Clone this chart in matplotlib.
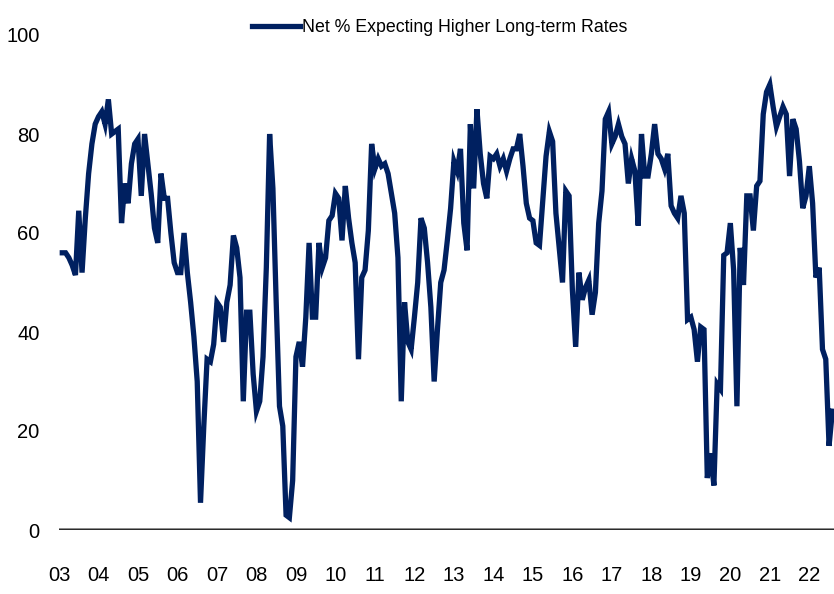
import numpy as np
import matplotlib
matplotlib.use('Agg')
import matplotlib.pyplot as plt

# monthly survey readings, Feb 2003 onwards (one row per calendar year)
START_YEAR = 2003
START_MONTH = 2
NET_HIGHER_RATES = [
    56, 56, 55, 53.5, 51.5, 64.5, 52, 63, 72, 78, 82,                     # 2003
    83.5, 84.5, 82, 87, 80, 80.5, 81, 62, 70, 66, 74, 78,                 # 2004
    79, 67.5, 80, 74, 68, 61, 58, 72, 67, 67, 60, 54,                     # 2005
    52, 52, 60, 52, 46, 39, 30, 5.5, 21, 34.5, 34, 37.5,                  # 2006
    46, 45, 38, 46, 49.5, 59.5, 57, 51, 26, 44, 44, 31.5,                 # 2007
    24, 26, 35, 53, 80, 69, 46, 25, 21, 3, 2.5, 10,                       # 2008
    35, 38, 33, 43, 58, 43, 43, 58, 53, 55, 62.5, 63.5,                   # 2009
    68, 67, 58.5, 69.5, 63, 58, 54, 34.5, 51, 52.5, 60.5, 78,             # 2010
    73, 75, 73.5, 74, 72, 68, 64, 55, 26, 46, 38, 36.5,                   # 2011
    43, 50, 63, 61, 54, 45, 30, 40.5, 50, 52.5, 58.5, 65,                 # 2012
    74.5, 72.5, 77, 62, 56.5, 82, 69, 85, 76, 70, 67, 75.5,               # 2013
    75, 76, 73.5, 75, 72.5, 75, 77, 77, 80, 73.5, 66, 63,                 # 2014
    62.5, 58, 57.5, 66.5, 75.5, 80.5, 78.5, 64, 57, 50, 68.5, 67.5,       # 2015
    48.5, 37, 52, 46.5, 49, 50.5, 43.5, 48, 62, 68.5, 83, 84.5,           # 2016
    78, 79.5, 82, 79.5, 78, 70, 75, 72.5, 61.5, 80, 71.5, 71.5,           # 2017
    76, 82, 76, 75, 73, 76, 65.5, 64, 63, 67.5, 64, 42.5,                 # 2018
    43, 40.5, 34, 41, 40.5, 10.5, 15.5, 9, 29.5, 28.5, 55.5, 56,          # 2019
    62, 52.5, 25, 57, 49.5, 67.5, 67.5, 60.5, 69.5, 70.5, 84, 88.5,       # 2020
    90, 85.5, 81.5, 83.5, 85.5, 84, 71.5, 83, 81, 74.5, 65, 67.5,         # 2021
    73.5, 66, 51, 53, 36.5, 34.5, 17, 24,                                 # 2022
]
YEAR_TICKS = list(range(2003, 2023))
YEAR_LABELS = [f"{y % 100:02d}" for y in YEAR_TICKS]
Y_TICKS = [0, 20, 40, 60, 80, 100]
SERIES_LABEL = "Net % Expecting Higher Long-term Rates"

NAVY = '#002060'
FONT = ['Liberation Sans Narrow', 'Liberation Sans', 'DejaVu Sans']


def main():
    plt.rcParams['font.family'] = FONT

    months = np.arange(len(NET_HIGHER_RATES)) + (START_MONTH - 1)
    x = START_YEAR + months / 12.0

    fig = plt.figure(figsize=(8.34, 5.94), dpi=100)
    ax = fig.add_axes([59 / 834, 1 - 530 / 594, 1 - 59 / 834, (530 - 35) / 594])

    ax.plot(x, NET_HIGHER_RATES, color=NAVY, lw=3.8, solid_joinstyle='miter',
            label=SERIES_LABEL, zorder=3)

    # zero line drawn as a thick grey rule
    ax.axhline(0, color='#9a9a9a', lw=3.6, zorder=1)
    ax.axhline(0, color='#2b2b2b', lw=1.6, zorder=2)

    ax.set_xlim(START_YEAR, START_YEAR + 235.5 / 12)
    ax.set_ylim(0, 100)
    ax.set_xticks(YEAR_TICKS)
    ax.set_xticklabels(YEAR_LABELS)
    ax.set_yticks(Y_TICKS)

    for s in ax.spines.values():
        s.set_visible(False)
    ax.tick_params(axis='both', length=0, labelsize=14.5, colors='black')
    ax.tick_params(axis='y', pad=14)
    ax.tick_params(axis='x', pad=26)

    fig.legend(loc='center', bbox_to_anchor=(0.527, 0.953), frameon=False,
               fontsize=12.8, handlelength=2.7, handletextpad=0.1, borderpad=0)

    fig.savefig('out.png', dpi=100)
    plt.close(fig)


if __name__ == '__main__':
    main()
